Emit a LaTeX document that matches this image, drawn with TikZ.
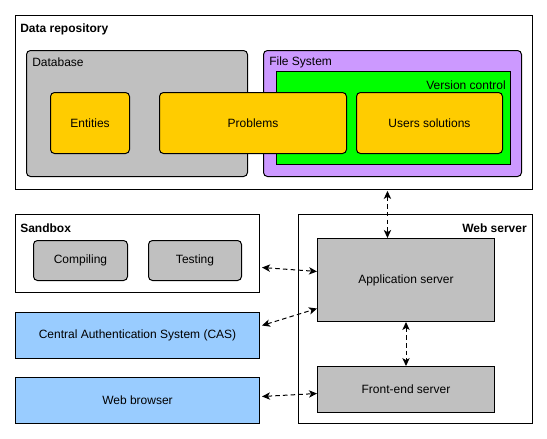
\documentclass[tikz,border=0pt]{standalone}
\usepackage{fontspec}
\setmainfont{Liberation Sans}
\usetikzlibrary{arrows.meta}
\usetikzlibrary{positioning}
\tikzset{>={Stealth[length=6pt,width=5.5pt,inset=1.6pt]}}
\definecolor{grey}{HTML}{C0C0C0}
\definecolor{gold}{HTML}{FFCC00}
\definecolor{lilac}{HTML}{CC99FF}
\definecolor{lime}{HTML}{00FF00}
\definecolor{sky}{HTML}{99CCFF}
\tikzset{
  box/.style={draw, line width=0.75pt, anchor=north west, inner sep=0pt},
  rbox/.style={box, rounded corners=3pt},
  wh/.style 2 args={minimum width=#1*0.75pt, minimum height=#2*0.75pt},
  caption/.style={inner sep=0pt},
  title/.style={caption, font=\fontsize{9pt}{11pt}\selectfont\bfseries},
  link/.style={<->, line width=0.75pt, dash pattern=on 3.4pt off 2.4pt}
}

\begin{document}
\begin{tikzpicture}[x=0.75pt, y=-0.75pt,
    every node/.append style={font=\fontsize{9pt}{11pt}\selectfont}]
        \useasboundingbox (0,0) rectangle (547,439);
        % data repository
        \node [box, wh={517}{174}] (repo) at (15,15) {};
        \node [title, anchor=west] at ([shift={(5,14.5)}]repo.north west) {Data repository};
        \node [rbox, fill=grey, wh={221}{126}] (db) at (26,50) {};
        \node [caption, anchor=west] at ([shift={(6,12)}]db.north west) {Database};
        \node [rbox, fill=lilac, wh={258}{126}] (fs) at (263,50) {};
        \node [caption, anchor=west] at ([shift={(6,12)}]fs.north west) {File System};
        \node [box, fill=lime, wh={234}{93}] (vc) at (276,71) {};
        \node [caption, anchor=east] at ([shift={(-5,14.5)}]vc.north east) {Version control};
        \node [rbox, fill=gold, wh={79}{61}] (entities) at (50,92) {Entities};
        \node [rbox, fill=gold, wh={187}{61}] (problems) at (159,92) {Problems};
        \node [rbox, fill=gold, wh={146}{61}] (users) at (356,92) {Users solutions};
        % sandbox
        \node [box, wh={244}{78}] (sandbox) at (15,214) {};
        \node [title, anchor=west] at ([shift={(5,14.5)}]sandbox.north west) {Sandbox};
        \node [rbox, fill=grey, wh={94}{40}] (compiling) at (33,240) {Compiling};
        \node [rbox, fill=grey, wh={93}{40}] (testing) at (148,240) {Testing};
        % external
        \node [box, fill=sky, wh={244}{46}] (cas) at (15,312) {Central Authentication System (CAS)};
        \node [box, fill=sky, wh={244}{46}] (browser) at (15,377) {Web browser};
        % web server
        \node [box, wh={234}{209}] (web) at (298,214) {};
        \node [title, anchor=east] at ([shift={(-6,14.5)}]web.north east) {Web server};
        \node [box, fill=grey, wh={177}{83}] (app) at (317,238) {Application server};
        \node [box, fill=grey, wh={177}{46}] (front) at (317,366) {Front-end server};
        % links
        \coordinate (appIn) at ([xshift=-13.9pt]app.north);
        \draw [link] ([yshift=-0.7pt]repo.south -| appIn) -- (appIn);
        \draw [link] (app.south) -- (front.north);
        \draw [link] ([shift={(1.5pt,-10.5pt)}]sandbox.east) -- ([yshift=6.4pt]app.west);
        \draw [link] ([shift={(1.5pt,7.5pt)}]cas.east) -- ([yshift=-21.4pt]app.west);
        \draw [link] ([shift={(1.5pt,3pt)}]browser.east) -- ([yshift=-3pt]front.west);
\end{tikzpicture}
\end{document}
